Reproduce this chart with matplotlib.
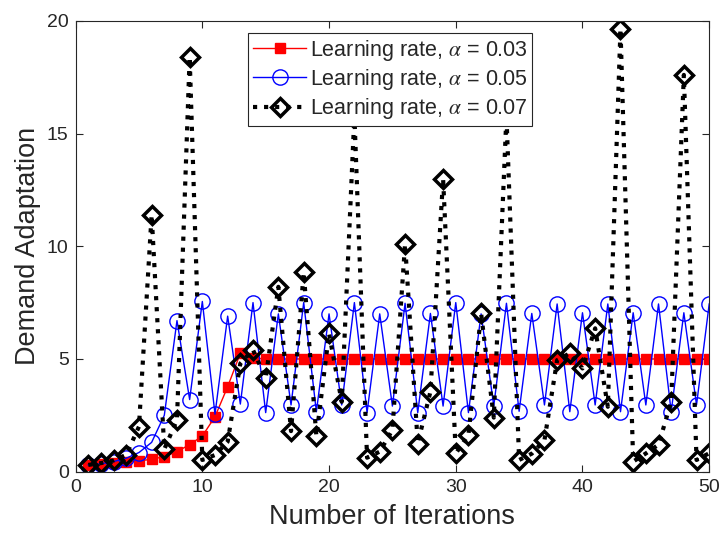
import matplotlib
matplotlib.use("Agg")
import matplotlib.pyplot as plt

plt.rcParams['font.family'] = ['Liberation Sans', 'DejaVu Sans']
plt.rcParams['mathtext.fontset'] = 'stix'

iterations = list(range(1, 51))

rate_003 = [0.30, 0.33, 0.37, 0.42, 0.48, 0.55, 0.67, 0.89, 1.20, 1.58,
            2.44, 3.77, 5.25, 5.05, 5.0, 5.0, 5.0, 5.0, 5.0, 5.0,
            5.0, 5.0, 5.0, 5.0, 5.0, 5.0, 5.0, 5.0, 5.0, 5.0,
            5.0, 5.0, 5.0, 5.0, 5.0, 5.0, 5.0, 5.0, 5.0, 5.0,
            5.0, 5.0, 5.0, 5.0, 5.0, 5.0, 5.0, 5.0, 5.0, 5.0]

rate_005 = [0.30, 0.35, 0.45, 0.60, 0.85, 1.30, 2.50, 6.70, 3.20, 7.55,
            2.55, 6.90, 3.00, 7.50, 2.62, 7.00, 2.96, 7.50, 2.66, 7.00,
            2.96, 7.50, 2.62, 7.00, 2.91, 7.47, 2.62, 7.02, 2.91, 7.50,
            2.62, 7.00, 2.91, 7.47, 2.68, 7.02, 2.96, 7.44, 2.66, 7.05,
            2.96, 7.44, 2.66, 7.05, 2.96, 7.44, 2.66, 7.05, 2.96, 7.44]

rate_007 = [0.30, 0.38, 0.50, 0.75, 2.00, 11.40, 1.00, 2.30, 18.40, 0.52,
            0.74, 1.33, 4.80, 5.40, 4.15, 8.20, 1.80, 8.85, 1.58, 6.13,
            3.10, 15.80, 0.62, 0.89, 1.85, 10.10, 1.25, 3.55, 13.00, 0.81,
            1.63, 7.02, 2.40, 15.80, 0.52, 0.80, 1.40, 4.95, 5.25, 4.58,
            6.36, 2.88, 19.65, 0.45, 0.81, 1.20, 3.10, 17.60, 0.52, 0.82]

labels = [r'Learning rate, $\alpha$ = 0.03',
          r'Learning rate, $\alpha$ = 0.05',
          r'Learning rate, $\alpha$ = 0.07']

fig = plt.figure(figsize=(7.2, 5.4), dpi=100)
ax = fig.add_axes([0.105, 0.1265, 0.880, 0.835])

ax.plot(iterations, rate_003, color='#ff0000', linestyle='-', linewidth=1.0,
        marker='s', markersize=7, markerfacecolor='#ff0000', markeredgecolor='#ff0000',
        label=labels[0])
ax.plot(iterations, rate_005, color='#0000ff', linestyle='-', linewidth=1.0,
        marker='o', markersize=11, markerfacecolor='none', markeredgecolor='#0000ff',
        markeredgewidth=1.0, label=labels[1])
ax.plot(iterations, rate_007, color='black', linestyle=':', linewidth=3.0,
        marker='D', markersize=9.5, markerfacecolor='none', markeredgecolor='black',
        markeredgewidth=2.5, label=labels[2])

ax.set_xlim(0, 50)
ax.set_ylim(0, 20)
ax.set_xticks([0, 10, 20, 30, 40, 50])
ax.set_yticks([0, 5, 10, 15, 20])
ax.tick_params(direction='in', top=True, right=True, labelsize=14,
               colors='#262626', length=5, width=0.8, pad=5)
for s in ax.spines.values():
    s.set_color('#262626')
    s.set_linewidth(0.8)

ax.set_xlabel('Number of Iterations', fontsize=19.5, color='#262626', labelpad=6)
ax.set_ylabel('Demand Adaptation', fontsize=19.5, color='#262626', labelpad=4)

leg = ax.legend(loc='upper left', bbox_to_anchor=(0.272, 0.973), fontsize=15.5,
                frameon=True, fancybox=False, edgecolor='#262626', framealpha=1,
                borderpad=0.22, labelspacing=0.2, handlelength=2.5,
                handletextpad=0.15, borderaxespad=0)
leg.get_frame().set_linewidth(0.8)
leg.set_zorder(10)
for t in leg.get_texts():
    t.set_color('#262626')

fig.savefig('out.png', dpi=100)
